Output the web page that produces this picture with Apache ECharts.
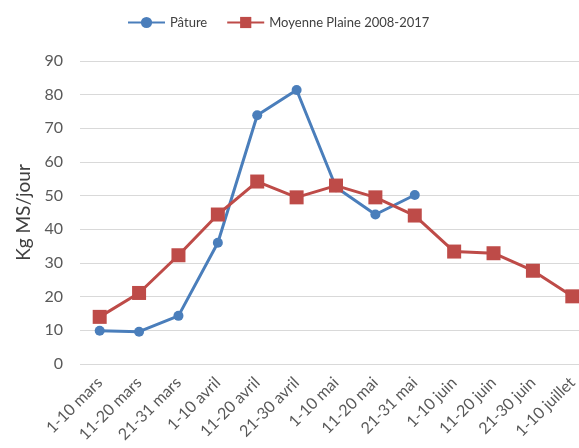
<!DOCTYPE html>
<html>
<head>
<meta charset="utf-8">
<script src="https://cdn.jsdelivr.net/npm/echarts@6/dist/echarts.min.js"></script>
<style>
  html, body { margin: 0; padding: 0; background: #fff; overflow: hidden; }
  #chart { width: 579px; height: 448px; }
</style>
</head>
<body>
<div id="chart"></div>
<script>
// périodes (décades)
const categories = [
  '1-10 mars', '11-20 mars', '21-31 mars', '1-10 avril', '11-20 avril', '21-30 avril',
  '1-10 mai', '11-20 mai', '21-31 mai', '1-10 juin', '11-20 juin', '21-30 juin', '1-10 juillet'
];
// croissance de l'herbe, Kg MS/jour
const pature = [9.9, 9.6, 14.3, 36.0, 73.9, 81.4, 52.5, 44.4, 50.2, null, null, null, null];
const moyennePlaine = [14.0, 21.1, 32.3, 44.4, 54.2, 49.5, 53.0, 49.5, 44.1, 33.4, 32.9, 27.7, 20.1];
const yTicks = { min: 0, max: 90, interval: 10 };

const labelFont = 'Lato';
const myChart = echarts.init(document.getElementById('chart'));
const option = {
  animation: false,
  textStyle: { fontFamily: labelFont },
  grid: {
    left: 80,
    top: 61,
    bottom: 84,
    right: -13, // le graphique d'origine est coupé à droite
    outerBoundsMode: 'none',
  },
  legend: {
    top: 11,
    left: 122,
    itemWidth: 37,
    itemHeight: 14,
    itemGap: 19,
    textStyle: { fontSize: 13, color: '#404040', fontFamily: labelFont },
    data: ['Pâture', 'Moyenne Plaine 2008-2017'],
  },
  xAxis: {
    type: 'category',
    data: categories,
    boundaryGap: true,
    axisLine: { show: false },
    axisTick: { show: false },
    axisLabel: {
      rotate: 45,
      margin: 16,
      fontSize: 16,
      color: '#595959',
      interval: 0,
    },
  },
  yAxis: {
    type: 'value',
    min: yTicks.min,
    max: yTicks.max,
    interval: yTicks.interval,
    name: 'Kg MS/jour',
    nameLocation: 'middle',
    nameGap: 43,
    nameTextStyle: { fontSize: 19, color: '#404040' },
    axisLine: { show: false },
    axisTick: { show: false },
    axisLabel: { fontSize: 16, color: '#595959', margin: 17 },
    splitLine: { lineStyle: { color: '#d9d9d9', width: 1 } },
  },
  series: [
    {
      name: 'Pâture',
      type: 'line',
      data: pature,
      z: 3,
      symbol: 'circle',
      symbolSize: 10,
      lineStyle: { color: '#4a7ebb', width: 3 },
      itemStyle: { color: '#4a7ebb' },
      connectNulls: false,
    },
    {
      name: 'Moyenne Plaine 2008-2017',
      type: 'line',
      data: moyennePlaine,
      z: 4,
      symbol: 'rect',
      symbolSize: 14,
      lineStyle: { color: '#be4b48', width: 3 },
      itemStyle: { color: '#be4b48' },
    },
  ],
};
option && myChart.setOption(option);
</script>
</body>
</html>
